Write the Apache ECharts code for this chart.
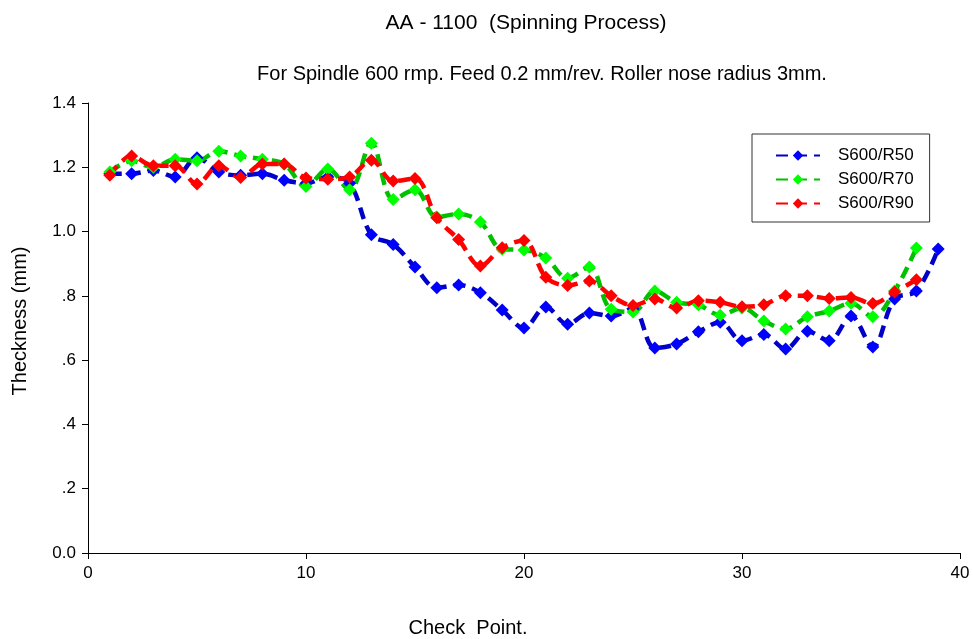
<!DOCTYPE html>
<html>
<head>
<meta charset="utf-8">
<script src="https://cdn.jsdelivr.net/npm/echarts@6/dist/echarts.min.js"></script>
<style>
  html, body { margin: 0; padding: 0; background: #fff; }
  #board { width: 973px; height: 639px; }
</style>
</head>
<body>
<div id="board"></div>
<script>
// 数据
const r50X = [1,2,3,4,5,6,7,8,9,10,11,12,13,14,15,16,17,18,19,20,21,22,23,24,25,26,27,28,29,30,31,32,33,34,35,36,37,38,39];
const r50 = [1.18,1.18,1.19,1.17,1.23,1.185,1.175,1.18,1.16,1.15,1.17,1.15,0.99,0.96,0.89,0.825,0.834,0.81,0.756,0.70,0.765,0.712,0.747,0.737,0.76,0.638,0.65,0.688,0.718,0.66,0.68,0.635,0.69,0.66,0.737,0.641,0.79,0.815,0.946];
const r70X = [1,2,3,4,5,6,7,8,9,10,11,12,13,14,15,16,17,18,19,20,21,22,23,24,25,26,27,28,29,30,31,32,33,34,35,36,37,38];
const r70 = [1.185,1.22,1.20,1.225,1.22,1.25,1.235,1.225,1.21,1.14,1.195,1.13,1.275,1.10,1.13,1.045,1.055,1.03,0.945,0.943,0.918,0.855,0.89,0.758,0.75,0.815,0.78,0.772,0.74,0.762,0.722,0.697,0.735,0.753,0.777,0.735,0.815,0.949];
const r90X = [1,2,3,4,5,6,7,8,9,10,11,12,13,14,15,16,17,18,19,20,21,22,23,24,25,26,27,28,29,30,31,32,33,34,35,36,37,38];
const r90 = [1.175,1.235,1.205,1.205,1.148,1.205,1.168,1.21,1.21,1.167,1.163,1.17,1.222,1.157,1.165,1.043,0.975,0.893,0.95,0.972,0.858,0.832,0.846,0.80,0.77,0.79,0.762,0.785,0.78,0.766,0.772,0.80,0.80,0.792,0.795,0.776,0.812,0.85];
const xTicks = [0, 10, 20, 30, 40];
const yTicks = ["0.0", ".2", ".4", ".6", ".8", "1.0", "1.2", "1.4"];

const font = "Liberation Sans";

function pairs(xs, ys) {
  return xs.map((x, i) => [x, ys[i]]);
}

function mkSeries(name, xs, ys, lineColor, markColor) {
  return {
    name: name,
    type: "line",
    data: pairs(xs, ys),
    smooth: 0.35,
    symbol: "diamond",
    symbolSize: 13,
    showAllSymbol: true,
    lineStyle: { color: lineColor, width: 4.5, type: [12, 7] },
    itemStyle: { color: markColor, borderWidth: 0 },
    emphasis: { disabled: true },
    z: 2
  };
}

const myChart = echarts.init(document.getElementById("board"));
myChart.setOption({
  animation: false,
  backgroundColor: "#fff",
  textStyle: { fontFamily: font, color: "#000" },
  title: [
    {
      text: "AA - 1100  (Spinning Process)",
      left: 521, top: 8, textAlign: "center",
      textStyle: { fontFamily: font, fontSize: 21, fontWeight: "normal", color: "#000" }
    },
    {
      text: "For Spindle 600 rmp. Feed 0.2 mm/rev. Roller nose radius 3mm.",
      left: 537, top: 59, textAlign: "center",
      textStyle: { fontFamily: font, fontSize: 20, fontWeight: "normal", color: "#000" }
    }
  ],
  legend: {
    orient: "vertical",
    left: 752, top: 134,
    padding: [13, 16, 10, 23],
    borderColor: "#333",
    borderWidth: 1,
    itemGap: 7,
    itemWidth: 44,
    itemHeight: 13,
    textStyle: { fontFamily: font, fontSize: 17, color: "#000", padding: [0, 0, 0, 13] },
    data: ["S600/R50", "S600/R70", "S600/R90"]
  },
  grid: { left: 88, right: 13, top: 103, bottom: 86, outerBoundsMode: "none" },
  xAxis: {
    type: "value",
    min: 0, max: 40, interval: 10,
    name: "Check  Point.",
    nameLocation: "middle",
    nameGap: 65,
    nameTextStyle: { fontFamily: font, fontSize: 20, color: "#000", padding: [0, 112, 0, 0] },
    axisLine: { show: true, lineStyle: { color: "#000", width: 1 } },
    axisTick: { show: true, inside: false, length: 6, lineStyle: { color: "#000" } },
    axisLabel: {
      fontFamily: font, fontSize: 17, color: "#000", margin: 12,
      formatter: v => (xTicks.indexOf(v) >= 0 ? String(v) : "")
    },
    splitLine: { show: false }
  },
  yAxis: {
    type: "value",
    min: 0, max: 1.4, interval: 0.2,
    name: "Theckness (mm)",
    nameLocation: "middle",
    nameGap: 58,
    nameRotate: 90,
    nameTextStyle: { fontFamily: font, fontSize: 20, color: "#000", padding: [0, 0, 0, 14] },
    axisLine: { show: true, lineStyle: { color: "#000", width: 1 } },
    axisTick: { show: true, inside: false, length: 6, lineStyle: { color: "#000" } },
    axisLabel: {
      fontFamily: font, fontSize: 17, color: "#000", margin: 12,
      formatter: v => yTicks[Math.round(v / 0.2)]
    },
    splitLine: { show: false }
  },
  series: [
    mkSeries("S600/R50", r50X, r50, "#0000c8", "#0000ff"),
    mkSeries("S600/R70", r70X, r70, "#00c000", "#00ff00"),
    mkSeries("S600/R90", r90X, r90, "#ff0000", "#ff0000")
  ]
});
</script>
</body>
</html>
